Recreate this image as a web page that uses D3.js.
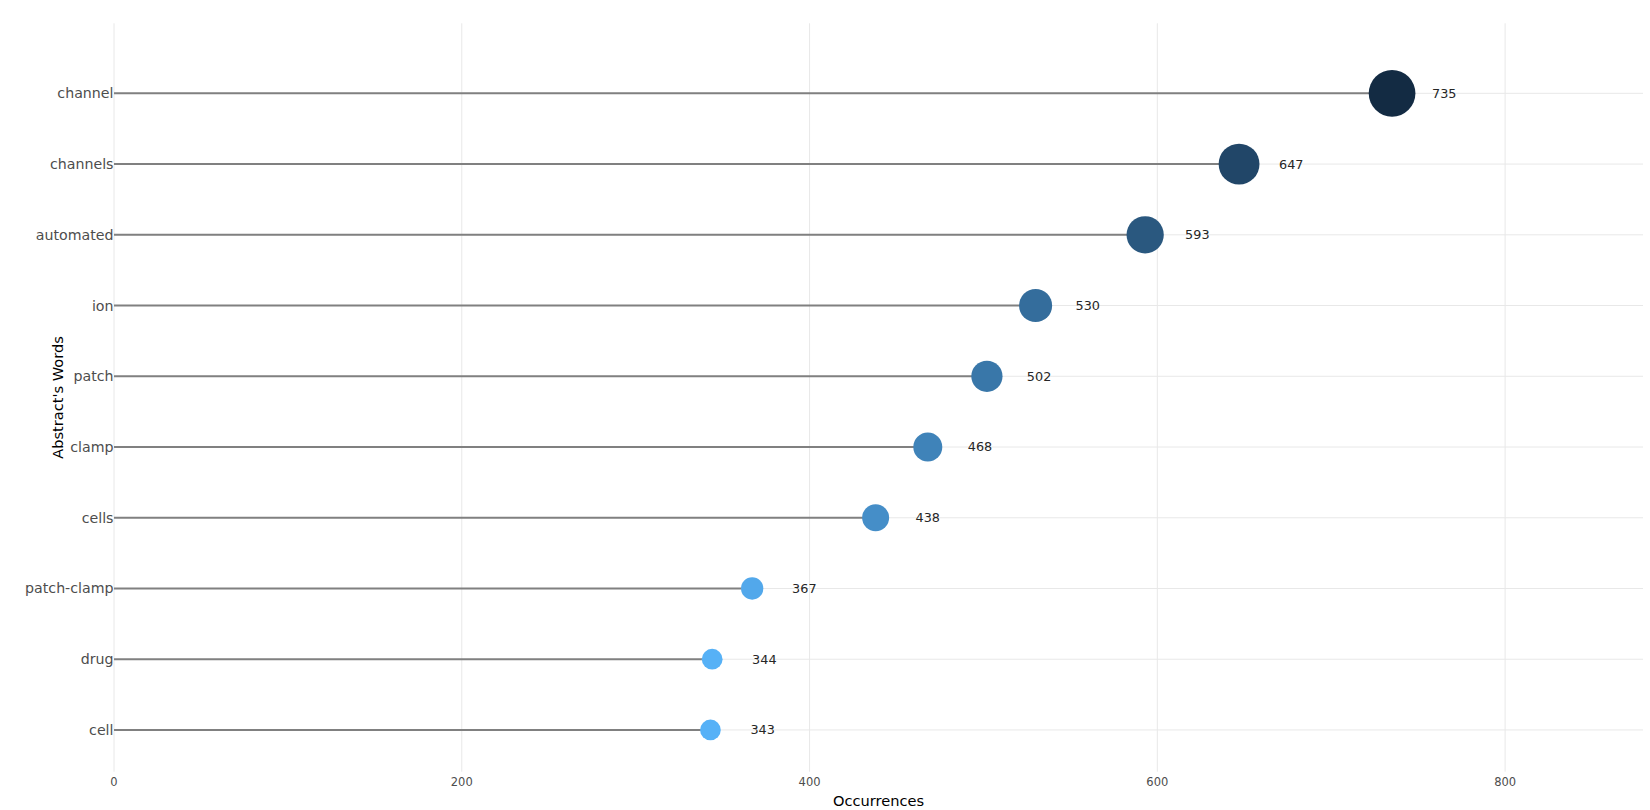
<!DOCTYPE html>
<html>
<head>
  <meta charset="utf-8">
  <title>Abstract's Words lollipop</title>
  <script src="https://cdn.jsdelivr.net/npm/d3@7"></script>
  <style>
    body { margin: 0; background: #fff; }
    text { font-family: "DejaVu Sans", Verdana, sans-serif; }
  </style>
</head>
<body>
  <svg id="chart" width="1650" height="810"></svg>
  <script>
    // words from top to bottom, with their counts
    var words = ["channel", "channels", "automated", "ion", "patch", "clamp", "cells", "patch-clamp", "drug", "cell"];
    var counts = [735, 647, 593, 530, 502, 468, 438, 367, 344, 343];
    var xTicks = [0, 200, 400, 600, 800];

    var svg = d3.select("#chart"),
      plotLeft = 114, plotRight = 1643, plotTop = 23.3, plotBottom = 771.7;

    var x = d3.scaleLinear().domain([0, 879.3]).range([plotLeft, plotRight]);
    // category index -> pixel (plot area padded like the original)
    var y = d3.scaleLinear().domain([-0.99, 9.59]).range([plotTop, plotBottom]);

    var color = d3.scaleLinear()
      .domain(d3.extent(counts))
      .range(["#56B1F7", "#132B43"])
      .interpolate(d3.interpolateLab);

    var size = d3.scaleLinear()
      .domain(d3.extent(counts))
      .range([20.7, 46.7]);

    // grid
    var grid = svg.append("g").attr("stroke", "#e8e8e8").attr("stroke-width", 1);
    grid.selectAll("line.v")
      .data(xTicks)
      .enter().append("line")
      .attr("class", "v")
      .attr("x1", d => x(d)).attr("x2", d => x(d))
      .attr("y1", plotTop).attr("y2", plotBottom);
    grid.selectAll("line.h")
      .data(words)
      .enter().append("line")
      .attr("class", "h")
      .attr("x1", plotLeft).attr("x2", plotRight)
      .attr("y1", (d, i) => y(i)).attr("y2", (d, i) => y(i));

    // x tick labels
    svg.append("g").selectAll("text")
      .data(xTicks)
      .enter().append("text")
      .attr("x", d => x(d))
      .attr("y", 786)
      .attr("text-anchor", "middle")
      .attr("fill", "#4d4d4d")
      .style("font-size", "11.5px")
      .text(d => d);

    // y tick labels
    svg.append("g").selectAll("text")
      .data(words)
      .enter().append("text")
      .attr("x", plotLeft - 0.5)
      .attr("y", (d, i) => y(i))
      .attr("dy", "0.35em")
      .attr("text-anchor", "end")
      .attr("fill", "#4d4d4d")
      .style("font-size", "14.2px")
      .text(d => d);

    // stems
    svg.append("g").selectAll("line")
      .data(counts)
      .enter().append("line")
      .attr("x1", x(0)).attr("x2", d => x(d))
      .attr("y1", (d, i) => y(i)).attr("y2", (d, i) => y(i))
      .attr("stroke", "#808080")
      .attr("stroke-width", 2);

    // points
    svg.append("g").selectAll("circle")
      .data(counts)
      .enter().append("circle")
      .attr("cx", d => x(d))
      .attr("cy", (d, i) => y(i))
      .attr("r", d => size(d) / 2)
      .attr("fill", d => color(d));

    // value labels
    svg.append("g").selectAll("text")
      .data(counts)
      .enter().append("text")
      .attr("x", d => x(d + 30))
      .attr("y", (d, i) => y(i))
      .attr("dy", "0.35em")
      .attr("text-anchor", "middle")
      .attr("fill", "#262626")
      .style("font-size", "12.8px")
      .text(d => d);

    // axis titles
    svg.append("text")
      .attr("x", (plotLeft + plotRight) / 2)
      .attr("y", 806)
      .attr("text-anchor", "middle")
      .attr("fill", "#000")
      .style("font-size", "14.6px")
      .text("Occurrences");

    svg.append("text")
      .attr("transform", "translate(63," + ((plotTop + plotBottom) / 2) + ") rotate(-90)")
      .attr("text-anchor", "middle")
      .attr("fill", "#000")
      .style("font-size", "14.6px")
      .text("Abstract's Words");
  </script>
</body>
</html>
